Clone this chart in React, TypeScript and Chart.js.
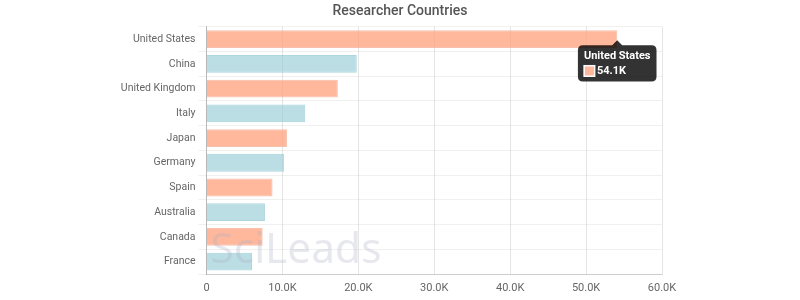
import React, { useEffect, useRef } from "react";
import { Chart, registerables } from "chart.js";

Chart.register(...registerables);

const countries = [
  "United States",
  "China",
  "United Kingdom",
  "Italy",
  "Japan",
  "Germany",
  "Spain",
  "Australia",
  "Canada",
  "France",
];
const researchers = [54100, 19800, 17300, 13000, 10600, 10200, 8700, 7700, 7400, 6000];
const xTickMax = 60000;
const xTickStep = 10000;
const titleText = "Researcher Countries";
const watermarkText = "SciLeads";

const salmonFill = "rgba(255,160,122,0.75)";
const salmonBorder = "rgba(240,140,110,0.55)";
const tealFill = "rgba(150,205,215,0.65)";
const tealBorder = "rgba(120,190,200,0.6)";

function fmtK(v: number) {
  if (v === 0) return "0";
  return (v / 1000).toFixed(1) + "K";
}

const watermarkPlugin = {
  id: "watermark",
  afterLayout(chart: any) {
    const tb = chart.titleBlock;
    if (tb) {
      tb.left = 0;
      tb.right = chart.width;
      tb.width = chart.width;
    }
  },
  afterDatasetsDraw(chart: any) {
    const { ctx, chartArea } = chart;
    ctx.save();
    ctx.font = "36px 'Noto Sans', Lato, sans-serif";
    const target = 171;
    const w = ctx.measureText(watermarkText).width;
    const size = 36 * (target / w);
    ctx.font = `${size}px 'Noto Sans', Lato, sans-serif`;
    ctx.fillStyle = "rgba(175,175,200,0.3)";
    ctx.textBaseline = "alphabetic";
    ctx.textAlign = "left";
    ctx.fillText(watermarkText, chartArea.left + 4, chartArea.bottom - 11);
    ctx.restore();
  },
};

export default function App() {
  const ref = useRef<HTMLCanvasElement | null>(null);
  useEffect(() => {
    document.body.style.margin = "0";
    if (!ref.current) return;
    Chart.defaults.font.family = "Roboto, 'Noto Sans', sans-serif";
    const bg = researchers.map((_, i) => (i % 2 === 0 ? salmonFill : tealFill));
    const bd = researchers.map((_, i) => (i % 2 === 0 ? salmonBorder : tealBorder));
    const chart = new Chart(ref.current, {
      type: "bar",
      data: {
        labels: countries,
        datasets: [
          {
            label: "Researchers",
            data: researchers,
            backgroundColor: bg,
            borderColor: bd,
            borderWidth: 1,
          },
        ],
      },
      plugins: [watermarkPlugin],
      options: {
        indexAxis: "y",
        animation: false,
        responsive: false,
        events: [],
        layout: { padding: { left: 0, right: 138, top: 0, bottom: 5 } },
        plugins: {
          legend: { display: false },
          title: {
            display: true,
            text: titleText,
            color: "#555",
            font: { size: 14, weight: 500 as any },
            padding: { top: 3, bottom: 7 },
          },
          tooltip: {
            enabled: true,
            yAlign: "top",
            backgroundColor: "rgba(0,0,0,0.8)",
            titleFont: { size: 11, weight: "bold" },
            bodyFont: { size: 11, weight: "bold" },
            titleMarginBottom: 2,
            padding: { x: 6, y: 4 },
            cornerRadius: 5,
            caretSize: 5,
            caretPadding: 1,
            boxWidth: 11,
            boxHeight: 11,
            callbacks: {
              label: (c: any) => fmtK(c.parsed.x),
              labelColor: () => ({
                backgroundColor: salmonFill,
                borderColor: "#fff",
                borderWidth: 1,
              }),
            },
          },
        },
        scales: {
          x: {
            min: 0,
            max: xTickMax,
            afterFit: (scale: any) => {
              scale.height = 21;
            },
            ticks: {
              stepSize: xTickStep,
              callback: (v: any) => fmtK(Number(v)),
              color: "#666",
              font: { size: 11 },
              padding: 8,
            },
            grid: { color: "rgba(0,0,0,0.1)", drawTicks: false },
            border: { color: "rgba(0,0,0,0.15)" },
          },
          y: {
            afterFit: (scale: any) => {
              scale.width = 206.5;
            },
            ticks: { color: "#666", font: { size: 10.5 }, padding: 3 },
            grid: { color: "rgba(0,0,0,0.06)", tickLength: 8 },
            border: { color: "rgba(0,0,0,0.2)" },
          },
        },
      },
    } as any);
    const el: any = chart.getDatasetMeta(0).data[0];
    chart.tooltip!.setActiveElements([{ datasetIndex: 0, index: 0 }], { x: el.x, y: el.y });
    chart.update();
    return () => chart.destroy();
  }, []);
  return (
    <div style={{ width: 800, height: 300 }}>
      <canvas ref={ref} width={800} height={300} style={{ display: "block" }} />
    </div>
  );
}
